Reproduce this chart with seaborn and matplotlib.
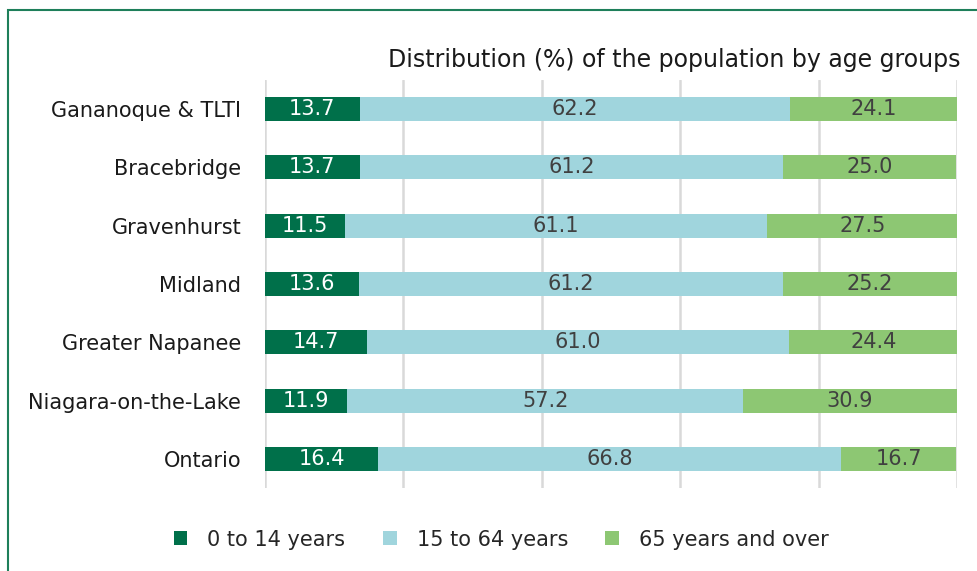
import matplotlib
matplotlib.use("Agg")
import matplotlib.pyplot as plt
from matplotlib.patches import Patch, Rectangle
import numpy as np
import pandas as pd
import seaborn as sns

regions = ["Gananoque & TLTI", "Bracebridge", "Gravenhurst", "Midland",
           "Greater Napanee", "Niagara-on-the-Lake", "Ontario"]
age_0_14 = [13.7, 13.7, 11.5, 13.6, 14.7, 11.9, 16.4]
age_15_64 = [62.2, 61.2, 61.1, 61.2, 61.0, 57.2, 66.8]
age_65_up = [24.1, 25.0, 27.5, 25.2, 24.4, 30.9, 16.7]
series_names = ["0 to 14 years", "15 to 64 years", "65 years and over"]
colors = ["#00704A", "#A0D5DD", "#8DC773"]
label_colors = ["white", "#404040", "#404040"]

sns.set_theme(style="white")
plt.rcParams["font.family"] = ["DejaVu Sans"]

df = pd.DataFrame({"region": regions, "a": age_0_14, "b": age_15_64, "c": age_65_up})
df["cum_a"] = df["a"]
df["cum_b"] = df["a"] + df["b"]
df["cum_c"] = df["a"] + df["b"] + df["c"]

fig = plt.figure(figsize=(9.77, 5.71), dpi=100)
ax = fig.add_axes([0.2712, 0.1454, 0.9795 - 0.2712, 0.8599 - 0.1454])

# stacked look: draw cumulative totals from the back to the front
for col, color in zip(["cum_c", "cum_b", "cum_a"], colors[::-1]):
    sns.barplot(data=df, x=col, y="region", order=regions, color=color,
                width=0.41, ax=ax, zorder=3, saturation=1, linewidth=0)

ax.set_xlim(0, 100)
ax.set_xticks(np.arange(0, 101, 20))
ax.set_xticklabels([])
ax.xaxis.grid(True, color="#D9D9D9", linewidth=1.8, zorder=0)
ax.yaxis.grid(False)
for s in ax.spines.values():
    s.set_visible(False)
ax.set_xlabel("")
ax.set_ylabel("")
ax.tick_params(axis="y", length=0, pad=17, labelsize=15, labelcolor="#1a1a1a")
ax.tick_params(axis="x", length=0)

# value labels in the middle of each segment
for i in range(len(regions)):
    starts = [0, age_0_14[i], age_0_14[i] + age_15_64[i]]
    vals = [age_0_14[i], age_15_64[i], age_65_up[i]]
    for s, v, lc in zip(starts, vals, label_colors):
        ax.text(s + v / 2, i, f"{v:.1f}", ha="center", va="center",
                fontsize=15, color=lc, zorder=4)

fig.text(0.9826, 0.895, "Distribution (%) of the population by age groups",
         ha="right", va="center", fontsize=17, color="#1a1a1a")

handles = [Patch(facecolor=c, edgecolor="none") for c in colors]
fig.legend(handles, series_names, loc="center", bbox_to_anchor=(0.513, 0.055),
           ncol=3, frameon=False, fontsize=15, handlelength=0.67, handleheight=0.67,
           columnspacing=1.8, handletextpad=0.95)

# green frame around the chart (cropped at right and bottom)
fig.patches.append(Rectangle((8 / 977, -0.05), 1.2, 1 - 10 / 571 + 0.05,
                             transform=fig.transFigure, fill=False,
                             edgecolor="#1E7F5A", linewidth=1.5, zorder=10))

fig.savefig("out.png", dpi=100)
